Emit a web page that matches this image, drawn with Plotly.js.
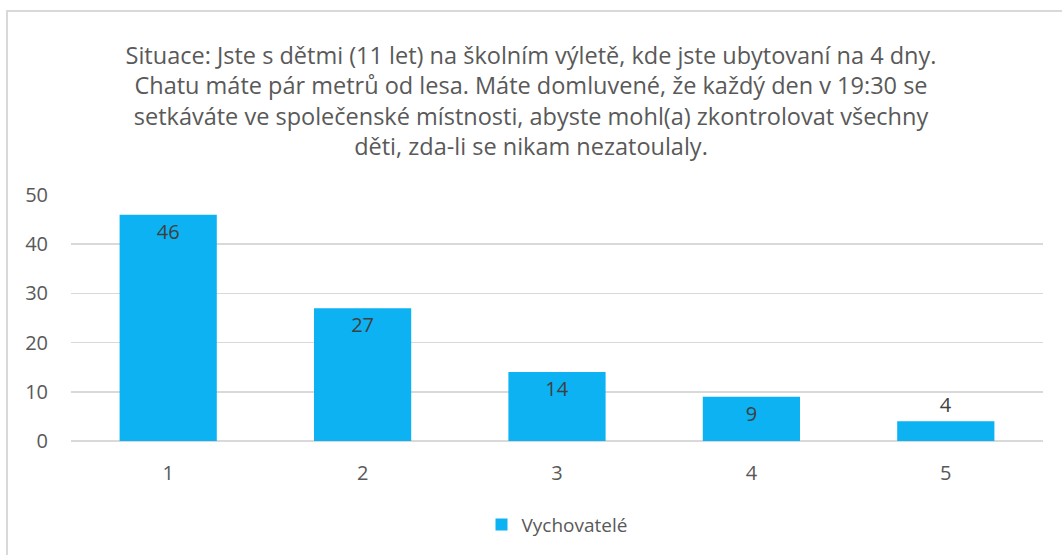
<!DOCTYPE html>
<html>
<head>
<meta charset="utf-8">
<script src="https://cdn.plot.ly/plotly-3.0.1.min.js"></script>
<style>
html,body{margin:0;padding:0;background:#fff;overflow:hidden;}
#chart{position:absolute;left:0;top:0;width:1062px;height:555px;}
#frame{position:absolute;left:6px;top:10px;width:1100px;height:600px;border:2px solid #D9D9D9;pointer-events:none;}
</style>
</head>
<body>
<div id="chart"></div>
<div id="frame"></div>
<script>
const categories = ['1', '2', '3', '4', '5'];
const values = [46, 27, 14, 9, 4];
const seriesName = 'Vychovatelé';
const titleText = 'Situace: Jste s dětmi (11 let) na školním výletě, kde jste ubytovaní na 4 dny.<br>Chatu máte pár metrů od lesa. Máte domluvené, že každý den v 19:30 se<br>setkáváte ve společenské místnosti, abyste mohl(a) zkontrolovat všechny<br>děti, zda-li se nikam nezatoulaly.';
const yTicks = [0, 10, 20, 30, 40, 50];

const font = "'Open Sans', 'Noto Sans', sans-serif";

const trace = {
  type: 'bar',
  x: categories,
  y: values,
  name: seriesName,
  text: values.map(String),
  textposition: values.map(v => v < 6 ? 'outside' : 'inside'),
  insidetextanchor: 'end',
  textfont: {family: font, size: 20, color: '#404040'},
  outsidetextfont: {family: font, size: 20, color: '#404040'},
  insidetextfont: {family: font, size: 20, color: '#404040'},
  marker: {color: '#0DB2F2', line: {width: 0}},
  width: 0.5,
  cliponaxis: false,
  showlegend: true
};

const layout = {
  width: 1062,
  height: 555,
  margin: {l: 71, r: 19, t: 195, b: 114},
  paper_bgcolor: '#ffffff',
  plot_bgcolor: '#ffffff',
  title: {
    text: titleText,
    font: {family: font, size: 23.5, color: '#595959'},
    x: 0.5,
    xanchor: 'center',
    y: 0.885,
    yanchor: 'middle'
  },
  xaxis: {
    type: 'category',
    showgrid: false,
    zeroline: false,
    showline: false,
    ticks: '',
    ticklabelstandoff: 18,
    tickfont: {family: font, size: 20, color: '#595959'}
  },
  yaxis: {
    range: [0, 50],
    tickvals: yTicks,
    showgrid: true,
    gridcolor: '#D9D9D9',
    gridwidth: 1.5,
    zeroline: true,
    zerolinecolor: '#D9D9D9',
    zerolinewidth: 1.5,
    showline: false,
    ticks: '',
    ticklabelstandoff: 22,
    tickfont: {family: font, size: 20, color: '#595959'}
  },
  legend: {
    orientation: 'h',
    x: 0.5,
    xanchor: 'center',
    y: -0.34,
    yanchor: 'middle',
    font: {family: font, size: 19, color: '#595959'},
    itemwidth: 30
  },
  bargap: 0.5
};

Plotly.newPlot('chart', [trace], layout, {staticPlot: true, displayModeBar: false});
</script>
</body>
</html>
